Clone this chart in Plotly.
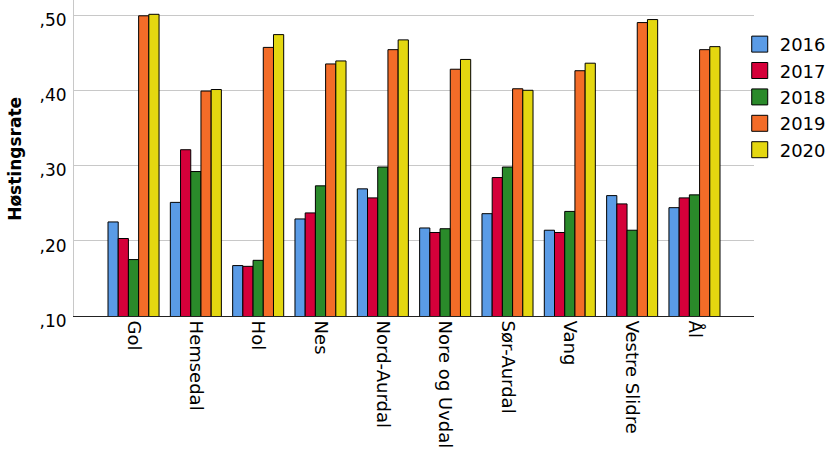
import plotly.graph_objects as go

categories = ["Gol", "Hemsedal", "Hol", "Nes", "Nord-Aurdal", "Nore og Uvdal",
              "Sør-Aurdal", "Vang", "Vestre Slidre", "Ål"]
years = ["2016", "2017", "2018", "2019", "2020"]
v2016 = [0.225, 0.251, 0.167, 0.229, 0.269, 0.217, 0.236, 0.214, 0.260, 0.244]
v2017 = [0.203, 0.321, 0.166, 0.237, 0.257, 0.211, 0.284, 0.211, 0.249, 0.257]
v2018 = [0.175, 0.292, 0.174, 0.273, 0.298, 0.216, 0.298, 0.239, 0.214, 0.261]
v2019 = [0.499, 0.399, 0.457, 0.435, 0.454, 0.428, 0.402, 0.426, 0.490, 0.454]
v2020 = [0.501, 0.401, 0.474, 0.439, 0.467, 0.441, 0.400, 0.436, 0.494, 0.458]
series = [v2016, v2017, v2018, v2019, v2020]
colors = ["#5A9BE6", "#D5003A", "#2A8A2A", "#F36C28", "#E4D710"]
tick_vals = [0.10, 0.20, 0.30, 0.40, 0.50]
tick_text = [",10", ",20", ",30", ",40", ",50"]
y_title = "Høstingsrate"

FONT = "DejaVu Sans, Arial, sans-serif"

fig = go.Figure()
for name, vals, col in zip(years, series, colors):
    fig.add_trace(go.Bar(
        x=categories, y=vals, name=name, legendgroup=name, showlegend=False,
        marker=dict(color=col, line=dict(color="#000000", width=1)),
    ))
# legend entries with larger square swatches
for name, col in zip(years, colors):
    fig.add_trace(go.Scatter(
        x=[None], y=[None], mode="markers", name=name, legendgroup=name,
        marker=dict(symbol="square", size=16, color=col,
                    line=dict(color="#000000", width=1)),
        hoverinfo="skip",
    ))

fig.update_layout(
    width=833, height=457,
    margin=dict(l=74, r=79, t=0, b=141, autoexpand=False),
    paper_bgcolor="white", plot_bgcolor="white",
    barmode="group", bargap=0.181, bargroupgap=0,
    font=dict(family=FONT, size=17, color="#000000"),
    legend=dict(x=0.979, y=0.918, xanchor="left", yanchor="top",
                font=dict(size=18), tracegroupgap=0, itemwidth=30,
                borderwidth=0, bgcolor="rgba(0,0,0,0)"),
    showlegend=True,
    annotations=[dict(
        text="<b>" + y_title + "</b>", xref="paper", yref="paper",
        x=-0.088, y=0.498, xanchor="center", yanchor="middle",
        textangle=-90, showarrow=False, font=dict(size=17, color="#000000"),
    )],
)
fig.update_xaxes(
    range=[-0.955, 9.955],
    tickangle=90, showline=True, linecolor="#222222", linewidth=1,
    ticks="", showgrid=False, tickfont=dict(size=18), automargin=False,
)
fig.update_yaxes(
    range=[0.10, 0.52], tickvals=tick_vals, ticktext=tick_text,
    showgrid=True, gridcolor="#C8C8C8", gridwidth=1, zeroline=False,
    showline=True, linecolor="#C8C8C8", linewidth=1,
    ticks="", tickfont=dict(size=17), automargin=False,
    ticklabelshift=5, ticklabelstandoff=3,
)

fig.write_html("out.html", config={"displayModeBar": False},
               post_script="document.body.style.margin='0';")
